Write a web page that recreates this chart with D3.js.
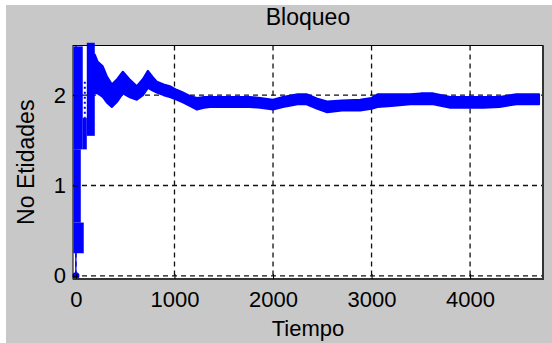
<!DOCTYPE html>
<html>
<head>
<meta charset="utf-8">
<script src="https://cdn.jsdelivr.net/npm/d3@7"></script>
<style>
  body { margin: 0; background: #fff; }
  svg text { font-family: "Liberation Sans", Arial, sans-serif; fill: #000; }
</style>
</head>
<body>
<svg id="chart"></svg>
<script>
// running mean of blocked entities (low / high)
const tiempo   = [191, 221, 272, 313, 364, 420, 476, 540, 618, 680, 730, 780, 821, 890, 953, 1020, 1085, 1160, 1228, 1300, 1360, 1500, 1766, 1870, 2000, 2100, 2250, 2340, 2450, 2550, 2700, 2885, 3000, 3060, 3200, 3392, 3500, 3626, 3800, 4000, 4134, 4300, 4470, 4700];
const bandLow  = [2.02, 2.02, 1.98, 1.92, 1.87, 1.93, 2.02, 1.98, 1.95, 2.00, 2.08, 2.05, 2.03, 2.00, 1.98, 1.95, 1.92, 1.88, 1.84, 1.86, 1.87, 1.87, 1.87, 1.86, 1.84, 1.87, 1.90, 1.90, 1.85, 1.81, 1.83, 1.83, 1.85, 1.87, 1.88, 1.90, 1.90, 1.90, 1.86, 1.86, 1.86, 1.87, 1.90, 1.90];
const bandHigh = [2.45, 2.37, 2.32, 2.21, 2.12, 2.18, 2.26, 2.18, 2.10, 2.18, 2.27, 2.20, 2.15, 2.12, 2.10, 2.06, 2.03, 1.99, 1.97, 1.98, 1.98, 1.98, 1.98, 1.97, 1.95, 1.98, 2.01, 2.01, 1.96, 1.93, 1.94, 1.95, 1.97, 2.01, 2.01, 2.01, 2.02, 2.02, 1.98, 1.98, 1.98, 1.98, 2.01, 2.01];

// first instants: [t from, t to, low, high]
const arranque = [
  [-25, 69, 1.40, 2.54],
  [-25, 49, 0.59, 1.40],
  [-25, 79, 0.25, 0.59],
  [-8, 6, 0.00, 0.25],
  [69, 110, 1.40, 1.75],
  [110, 191, 1.55, 2.58]
];
// sparse samples between the first two columns: [t, low, high]
const huecos = [[90, 1.75, 2.15]];
const puntos = [[0, 0]];

const xTicks = [0, 1000, 2000, 3000, 4000];
const yTicks = [0, 1, 2];
const titulo = "Bloqueo", xTitulo = "Tiempo", yTitulo = "No Etidades";

const width = 552, height = 343;
const mLeft = 73, mRight = 543, mTop = 45.5, mBottom = 279;

const svg = d3.select("#chart").attr("width", width).attr("height", height);

svg.append("rect").attr("x", 6).attr("y", 5).attr("width", width - 6).attr("height", height - 5).attr("fill", "#c8c8c8");
svg.append("rect").attr("x", mLeft).attr("y", mTop).attr("width", mRight - mLeft).attr("height", mBottom - mTop).attr("fill", "#fff");

const x = d3.scaleLinear([-30, 4740], [mLeft, mRight]);
const y = d3.scaleLinear([-0.035, 2.55], [mBottom, mTop]);

// dashed grid
const grid = svg.append("g").attr("stroke", "#111").attr("stroke-width", 1.3).attr("stroke-dasharray", "5,4");
grid.selectAll(".gx").data(xTicks).join("line")
  .attr("x1", d => x(d)).attr("x2", d => x(d)).attr("y1", mTop).attr("y2", mBottom);
grid.selectAll(".gy").data(yTicks).join("line")
  .attr("x1", mLeft).attr("x2", mRight).attr("y1", d => y(d)).attr("y2", d => y(d));

// data
const serie = tiempo.map((t, i) => ({ t, lo: bandLow[i], hi: bandHigh[i] }));
const area = d3.area().x(d => x(d.t)).y0(d => y(d.lo)).y1(d => y(d.hi));
svg.append("path").datum(serie).attr("d", area)
  .attr("fill", "#0000ff").attr("stroke", "#0000ff").attr("stroke-width", 2).attr("stroke-linejoin", "round");

svg.append("g").selectAll("rect").data(arranque).join("rect")
  .attr("x", d => x(d[0])).attr("width", d => x(d[1]) - x(d[0]))
  .attr("y", d => y(d[3])).attr("height", d => y(d[2]) - y(d[3]))
  .attr("fill", "#0000ff");

svg.append("g").selectAll("line").data(huecos).join("line")
  .attr("x1", d => x(d[0])).attr("x2", d => x(d[0]))
  .attr("y1", d => y(d[2])).attr("y2", d => y(d[1]))
  .attr("stroke", "#0000ff").attr("stroke-width", 2).attr("stroke-dasharray", "2,3");

svg.append("g").selectAll("circle").data(puntos).join("circle")
  .attr("cx", d => x(d[0])).attr("cy", d => y(d[1])).attr("r", 3.5).attr("fill", "#0000ff");

// box
svg.append("rect").attr("x", mLeft).attr("y", mTop).attr("width", mRight - mLeft).attr("height", mBottom - mTop)
  .attr("fill", "none").attr("stroke", "#000").attr("stroke-width", 1);
svg.append("path").attr("d", `M${mLeft},${mBottom}H${mRight}V${mTop}`)
  .attr("fill", "none").attr("stroke", "#333").attr("stroke-width", 2);

// axes
svg.append("g").attr("transform", `translate(0,${mBottom})`)
  .call(d3.axisBottom(x).tickValues(xTicks).tickFormat(d3.format("d")).tickSize(-5).tickPadding(12))
  .call(g => g.select(".domain").remove())
  .call(g => g.selectAll("text").attr("font-size", 22).attr("font-family", null))
  .call(g => g.selectAll(".tick line").attr("stroke", "#000"));

svg.append("g").attr("transform", `translate(${mLeft},0)`)
  .call(d3.axisLeft(y).tickValues(yTicks).tickFormat(d3.format("d")).tickSize(-5).tickPadding(7))
  .call(g => g.select(".domain").remove())
  .call(g => g.selectAll("text").attr("font-size", 22).attr("font-family", null))
  .call(g => g.selectAll(".tick line").attr("stroke", "#000"));

// titles
svg.append("text").attr("x", (mLeft + mRight) / 2).attr("y", 25).attr("text-anchor", "middle")
  .attr("font-size", 23).text(titulo);
svg.append("text").attr("x", (mLeft + mRight) / 2).attr("y", 336).attr("text-anchor", "middle")
  .attr("font-size", 22).text(xTitulo);
svg.append("text").attr("transform", `translate(34,${(mTop + mBottom) / 2}) rotate(-90)`).attr("text-anchor", "middle")
  .attr("font-size", 23).text(yTitulo);
</script>
</body>
</html>
